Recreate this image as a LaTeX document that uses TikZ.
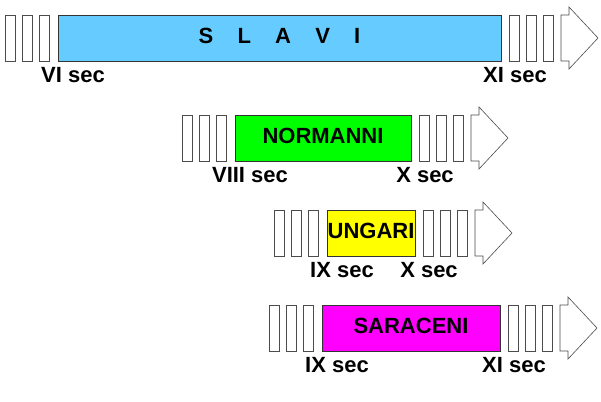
\documentclass[tikz,border=0pt]{standalone}
\usepackage{fontspec}
\setmainfont{Liberation Sans}
\definecolor{sky}{HTML}{66CCFF}
\definecolor{mag}{HTML}{FF00FF}
\definecolor{grn}{HTML}{00FF00}
\definecolor{yel}{HTML}{FFFF00}
\begin{document}
\begin{tikzpicture}[x=1pt,y=-1pt,
  tick/.style={draw=black!70,fill=white,line width=0.6pt},
  barbox/.style={draw=black!80,line width=0.6pt},
  lab/.style={font=\fontsize{22}{24}\selectfont\bfseries,inner sep=0pt,anchor=north},
  bartext/.style={font=\fontsize{22}{24}\selectfont\bfseries,inner sep=0pt}]
\useasboundingbox (0,0) rectangle (601,401);
\foreach \n/\a/\b/\t/\col/\txt/\la/\lb in {
  1/58/501/15/sky/{S\hspace{1.1em}L\hspace{1.1em}A\hspace{1.1em}V\hspace{1.1em}I}/VI sec/XI sec,
  2/235/411/115/grn/NORMANNI/VIII sec/X sec,
  3/327/415/210/yel/UNGARI/IX sec/X sec,
  4/322/500/305/mag/SARACENI/IX sec/XI sec}{
  \pgfmathsetmacro\bot{\t+46}
  \foreach \k in {0,1,2}{
    \draw[tick] (\a-53+17*\k,\t) rectangle (\a-43+17*\k,\bot);
    \draw[tick] (\b+8+17*\k,\t) rectangle (\b+18+17*\k,\bot);
  }
  \draw[barbox,fill=\col] (\a,\t) rectangle (\b,\bot);
  \node[bartext] (bar\n) at ({(\a+\b)/2},{\t+21}) {\txt};
  \draw[tick] (\b+60,\t) -- (\b+68,\t) -- (\b+68,\t-8) -- (\b+97,\t+23)
     -- (\b+68,\bot+8) -- (\b+68,\bot) -- (\b+60,\bot) -- cycle;
  \node[lab] (l\n) at (\a+15,\bot+6) {\la};
  \node[lab] (r\n) at (\b+14,\bot+6) {\lb};
}
\end{tikzpicture}
\end{document}
